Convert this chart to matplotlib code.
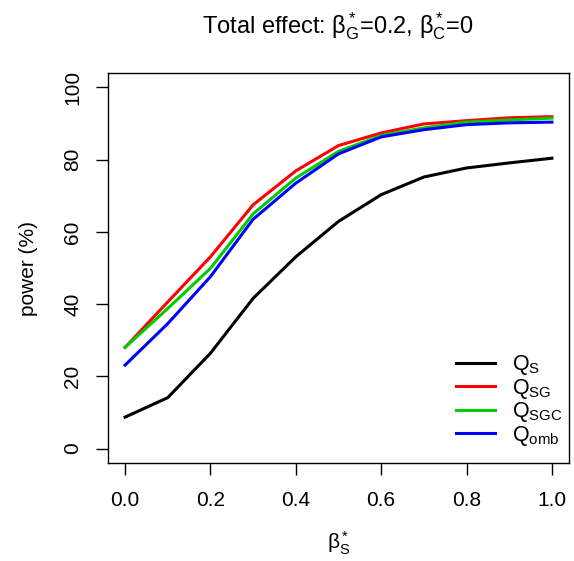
import matplotlib
matplotlib.use('Agg')
import matplotlib.pyplot as plt

plt.rcParams['font.family'] = ['Liberation Sans', 'DejaVu Sans']
plt.rcParams['mathtext.fontset'] = 'custom'
plt.rcParams['mathtext.rm'] = 'Liberation Sans'
plt.rcParams['mathtext.it'] = 'Liberation Sans'
plt.rcParams['mathtext.bf'] = 'Liberation Sans:bold'

# beta*_S values and power (%) for each test
beta_s = [0.0, 0.1, 0.2, 0.3, 0.4, 0.5, 0.6, 0.7, 0.8, 0.9, 1.0]
power_qs = [8.7, 14.1, 26.4, 41.6, 53.1, 62.9, 70.3, 75.2, 77.7, 79.1, 80.4]
power_qsg = [28.0, 40.6, 53.1, 67.5, 76.9, 83.9, 87.4, 89.9, 90.8, 91.6, 91.9]
power_qsgc = [28.0, 38.8, 49.9, 65.0, 74.9, 82.3, 86.7, 88.8, 90.4, 91.0, 91.5]
power_qomb = [23.1, 34.6, 47.6, 63.5, 73.5, 81.6, 86.3, 88.3, 89.7, 90.2, 90.4]

series = [
    (power_qs, 'black', r'$\mathregular{Q_S}$'),
    (power_qsg, 'red', r'$\mathregular{Q_{SG}}$'),
    (power_qsgc, '#00CD00', r'$\mathregular{Q_{SGC}}$'),
    (power_qomb, 'blue', r'$\mathregular{Q_{omb}}$'),
]

fig = plt.figure(figsize=(5.74, 5.61), dpi=100)
ax = fig.add_axes([108 / 574, 1 - 463 / 561, (569 - 108) / 574, (463 - 73) / 561])

for values, colour, label in series:
    ax.plot(beta_s, values, color=colour, lw=2.2, label=label)

ax.set_xlim(-0.04, 1.04)
ax.set_ylim(-4, 104)
ax.set_xticks([0.0, 0.2, 0.4, 0.6, 0.8, 1.0])
ax.set_xticklabels(['0.0', '0.2', '0.4', '0.6', '0.8', '1.0'])
ax.set_yticks([0, 20, 40, 60, 80, 100])
ax.tick_params(axis='both', direction='out', length=8.5, width=1, labelsize=15)
ax.tick_params(axis='x', pad=12)
ax.tick_params(axis='y', pad=10)
plt.setp(ax.get_yticklabels(), rotation=90, va='center')
for sp in ax.spines.values():
    sp.set_linewidth(1)

ax.set_xlabel(r'$\mathregular{\beta_S^*}$', fontsize=15, labelpad=14)
ax.set_ylabel('power (%)', fontsize=15, labelpad=18)
# title centred over the plot region, as in R
fig.text(338 / 574, 1 - 26 / 561,
         r'Total effect: $\mathregular{\beta_G^*}$=0.2, $\mathregular{\beta_C^*}$=0',
         fontsize=17, ha='center', va='center')

ax.legend(loc='lower right', bbox_to_anchor=(1.02, 0.0), frameon=False, fontsize=15.5,
          handlelength=1.8, handletextpad=0.8, labelspacing=-0.02, borderaxespad=0.3)

fig.savefig('out.png', dpi=100)
